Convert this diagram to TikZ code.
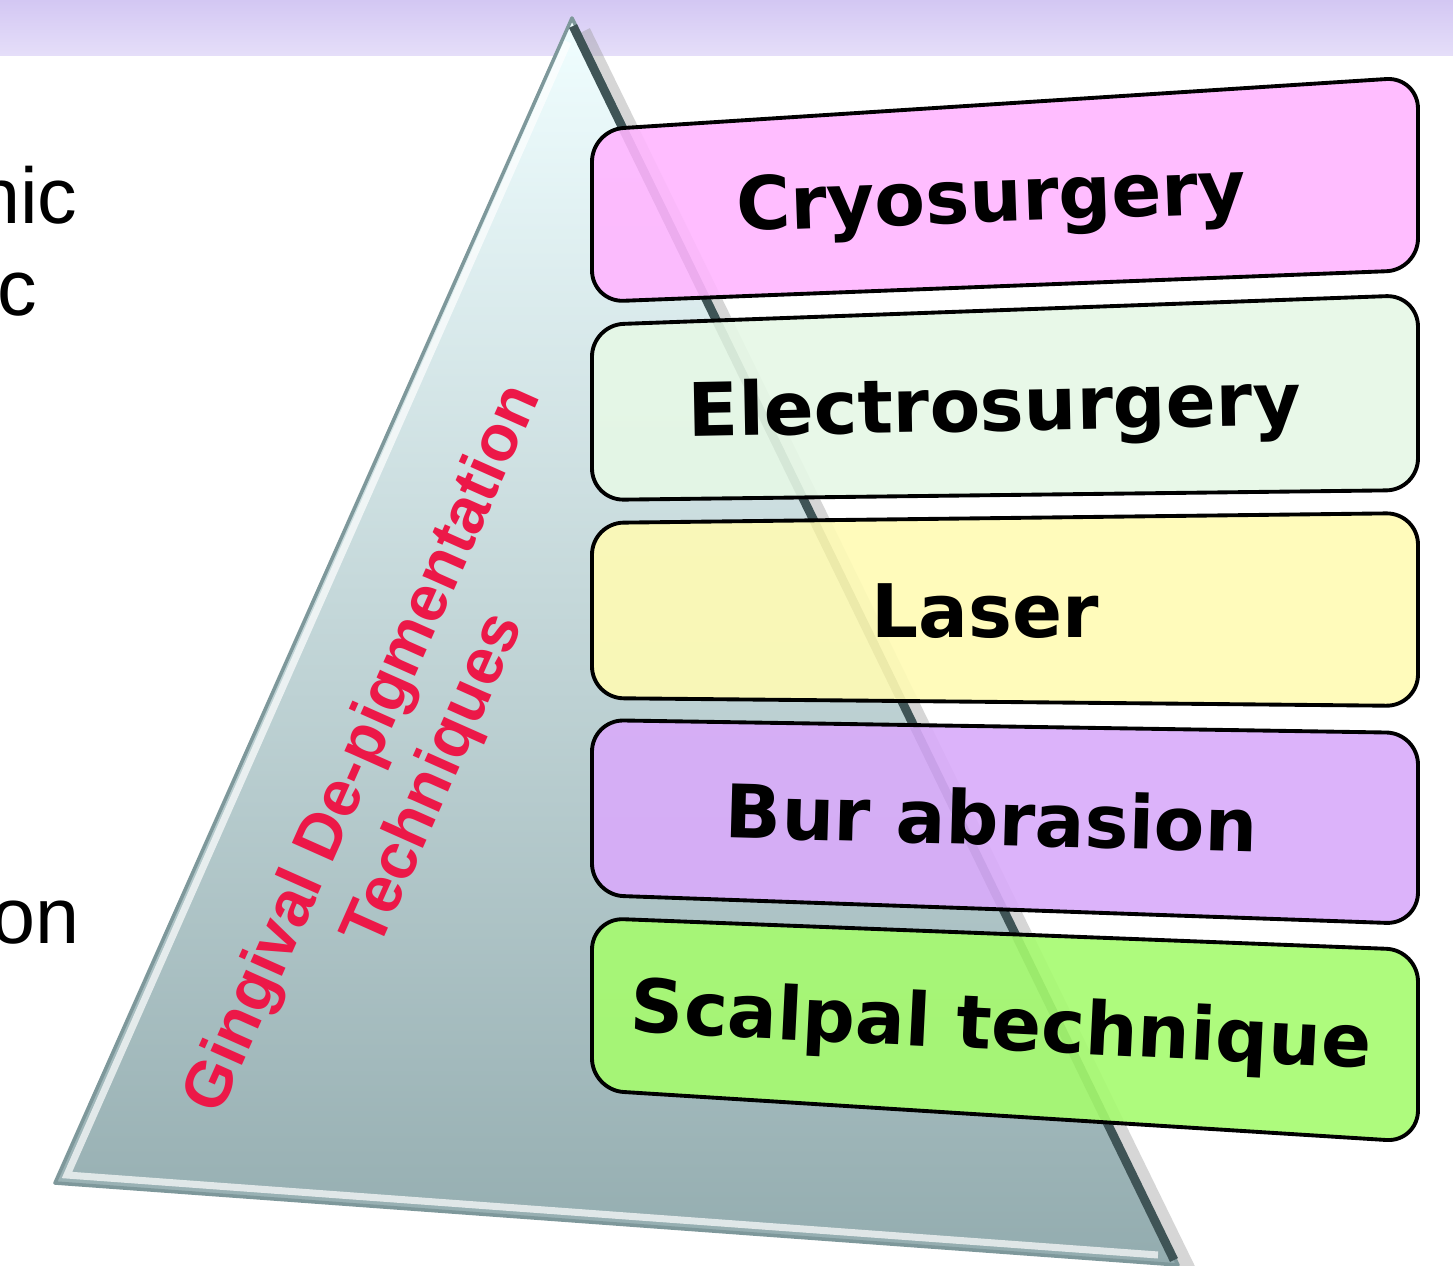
\documentclass[tikz,border=0pt]{standalone}
\usepackage{fontspec}
\setmainfont{Liberation Sans}
\newfontfamily\boxfont{DejaVu Sans}
\usepackage{tikz}

\definecolor{bandtop}{HTML}{D3C7F3}
\definecolor{bandbot}{HTML}{E5DEF9}
\definecolor{pyrtop}{HTML}{F0FEFF}
\definecolor{pyrmid}{HTML}{C6DEE2}
\definecolor{pyrbot}{HTML}{93ACAF}
\definecolor{pyredge}{HTML}{7E989B}
\definecolor{pyrdark}{HTML}{3F5456}
\definecolor{cryofill}{HTML}{FFB6FF}
\definecolor{electrofill}{HTML}{E6F8E6}
\definecolor{laserfill}{HTML}{FFFBB4}
\definecolor{burfill}{HTML}{D9ABFA}
\definecolor{scalfill}{HTML}{A6FB6F}
\definecolor{titlered}{HTML}{EC1848}

\begin{document}
\begin{tikzpicture}[x=0.01cm, y=-0.01cm,
  slab/.style={draw=black, line width=1.1pt, rounded corners=9pt, fill opacity=.9},
  techtext/.style={anchor=base, font=\boxfont\bfseries\fontsize{21}{25}\selectfont},
  sidetext/.style={anchor=base east, inner sep=0pt, font=\fontsize{22.5}{27}\selectfont}]
  \clip (0,0) rectangle (1453,1266);
  \fill[white] (0,0) rectangle (1453,1266);
  \shade[top color=bandtop, bottom color=bandbot] (0,0) rectangle (1453,55);
  \node[sidetext] (nic) at (78,223) {nic};
  \node[sidetext] (c) at (38,315) {c};
  \node[sidetext] (on) at (80,943) {on};

  \coordinate (apex) at (572,18); \coordinate (bl) at (55,1183); \coordinate (br) at (1178,1265);
  \draw[black!40, line width=5pt, opacity=.4] (582,32) -- (1188,1272);
  \shade[top color=pyrtop, middle color=pyrmid, bottom color=pyrbot] (apex) -- (br) -- (bl) -- cycle;
  \draw[pyredge, line width=1pt, line join=round] (apex) -- (br) -- (bl) -- cycle;
  \draw[white, opacity=.7, line width=2pt] (568,42) -- (67,1175) -- (1158,1255);
  \draw[pyrdark, line width=2.5pt] (573,26) -- (1174,1260);

  \draw[slab, fill=cryofill] (592,130) -- (1418,77) -- (1418,270) -- (592,302) -- cycle;
  \draw[slab, fill=electrofill] (592,325) -- (1418,295) -- (1418,490) -- (592,500) -- cycle;
  \draw[slab, fill=laserfill] (592,523) -- (1418,513) -- (1418,706) -- (592,698) -- cycle;
  \draw[slab, fill=burfill] (592,720) -- (1418,733) -- (1418,924) -- (592,895) -- cycle;
  \draw[slab, fill=scalfill] (592,918) -- (1418,950) -- (1418,1142) -- (592,1090) -- cycle;

  \node[techtext, rotate=2] (cryo) at (992,222) {Cryosurgery};
  \node[techtext, rotate=1.1] (electro) at (995,431) {Electrosurgery};
  \node[techtext] (laser) at (985,637) {Laser};
  \node[techtext, rotate=-1.6] (bur) at (991,845) {Bur abrasion};
  \node[techtext, rotate=-2.8] (scalpal) at (1000,1050) {Scalpal technique};

  \node[rotate=66, align=center, text=titlered, font=\bfseries\fontsize{18.5}{22}\selectfont] (title) at (400,765) {Gingival De-pigmentation\\Techniques};
\end{tikzpicture}
\end{document}
